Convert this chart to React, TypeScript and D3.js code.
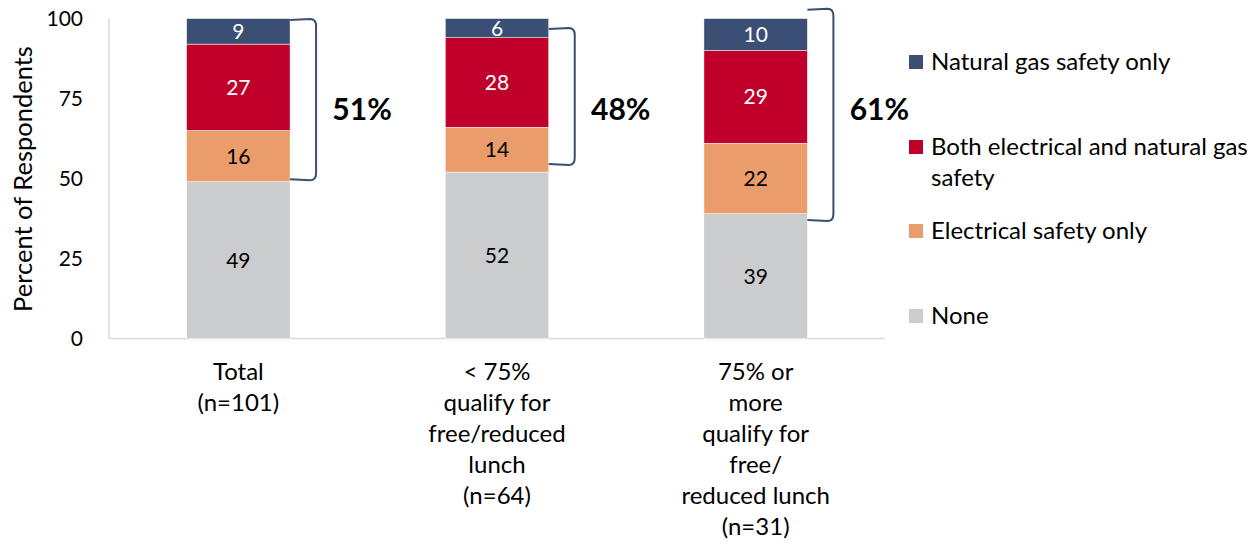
import React from "react";
import * as d3 from "d3";

const categories = ["Total", "<75", "75plus"];
const categoryLabels: string[][] = [
  ["Total", "(n=101)"],
  ["< 75%", "qualify for", "free/reduced", "lunch", "(n=64)"],
  ["75% or", "more", "qualify for", "free/", "reduced lunch", "(n=31)"],
];
const seriesNames = [
  "None",
  "Electrical safety only",
  "Both electrical and natural gas safety",
  "Natural gas safety only",
];
const noneVals = [49, 52, 39];
const electricalOnly = [16, 14, 22];
const bothVals = [27, 28, 29];
const gasOnly = [9, 6, 10];
const seriesColors = ["#CBCCCE", "#EB9C6B", "#C0002A", "#3B4E74"];
const labelColors = ["#000", "#000", "#fff", "#fff"];
const bracketPct = ["51%", "48%", "61%"];
const bracketTop = [99.5, 96.7, 102.7];
const bracketBottom = [49.8, 54.5, 37];
const yTicks = [0, 25, 50, 75, 100];

const legendLines: string[][] = [
  ["Natural gas safety only"],
  ["Both electrical and natural gas", "safety"],
  ["Electrical safety only"],
  ["None"],
];
const legendColors = ["#3B4E74", "#C0002A", "#EB9C6B", "#CBCCCE"];
const legendY = [62, 147, 231, 316];

const FONT = "Lato, 'Open Sans', sans-serif";

export default function App() {
  const W = 1257, H = 545;
  const x = d3.scaleBand<string>().domain(categories).range([109, 885]).paddingInner(0.6).paddingOuter(0.3);
  const y = d3.scaleLinear().domain([0, 100]).range([338.5, 18.5]);
  const series = [noneVals, electricalOnly, bothVals, gasOnly];
  const table = categories.map((c, i) => {
    const o: any = { cat: c };
    seriesNames.forEach((s, j) => (o[s] = series[j][i]));
    return o;
  });
  const stacked = d3.stack<any>().keys(seriesNames)(table);
  const bw = x.bandwidth();
  const clamp = (v: number) => Math.min(v, 100);

  return (
    <svg width={W} height={H} style={{ position: "absolute", left: 0, top: 0, background: "#fff" }} fontFamily={FONT}>
      {/* axes */}
      <line x1={109} x2={109} y1={y(100)} y2={y(0)} stroke="#d9d9d9" strokeWidth={1.5} />
      <line x1={109} x2={885} y1={y(0)} y2={y(0)} stroke="#d9d9d9" strokeWidth={1.5} />
      {yTicks.map((t) => (
        <text key={t} x={83} y={y(t)} dy="0.35em" textAnchor="end" fontSize={21} fill="#000">
          {t}
        </text>
      ))}
      <text transform={`translate(23,179) rotate(-90)`} dy="0.35em" textAnchor="middle" fontSize={25.5} fill="#000">
        Percent of Respondents
      </text>
      {/* bars */}
      {stacked.map((layer, j) => (
        <g key={j}>
          {layer.map((d, i) => {
            const x0 = x(categories[i])!;
            const yTopPx = y(clamp(d[1]));
            const yBotPx = y(clamp(d[0]));
            return (
              <g key={i}>
                <rect x={x0} y={yTopPx} width={bw} height={yBotPx - yTopPx} fill={seriesColors[j]} stroke="#fff" strokeWidth={0.5} />
                <text x={x0 + bw / 2} y={(yTopPx + yBotPx) / 2} dy="0.36em" textAnchor="middle" fontSize={21} fill={labelColors[j]}>
                  {series[j][i]}
                </text>
              </g>
            );
          })}
        </g>
      ))}
      {/* brackets */}
      {categories.map((c, i) => {
        const bx = x(c)! + bw;
        const x1 = bx + 26;
        const t = y(bracketTop[i]);
        const b = y(bracketBottom[i]);
        const r = 6;
        const p = `M${bx},${t} L${x1 - r},${t - 1} Q${x1},${t - 1} ${x1},${t + r} L${x1},${b - r} Q${x1},${b + 1} ${x1 - r},${b + 1} L${bx},${b}`;
        return (
          <g key={c}>
            <path d={p} fill="none" stroke="#3B4E74" strokeWidth={2} />
            <text x={bx + 72} y={120} textAnchor="middle" fontSize={30} fontWeight="bold" fill="#000">
              {bracketPct[i]}
            </text>
          </g>
        );
      })}
      {/* category labels */}
      {categories.map((c, i) => (
        <text key={c} textAnchor="middle" fontSize={24} fill="#000">
          {categoryLabels[i].map((l, k) => (
            <tspan key={k} x={x(c)! + bw / 2} y={372 + k * 31} dy="0.35em">
              {l}
            </tspan>
          ))}
        </text>
      ))}
      {/* legend */}
      {legendLines.map((lines, i) => (
        <g key={i}>
          <rect x={909} y={legendY[i] - 7} width={14} height={14} fill={legendColors[i]} />
          {lines.map((l, k) => (
            <text key={k} x={931} y={legendY[i] + k * 31} dy="0.35em" fontSize={24} fill="#000">
              {l}
            </text>
          ))}
        </g>
      ))}
    </svg>
  );
}
